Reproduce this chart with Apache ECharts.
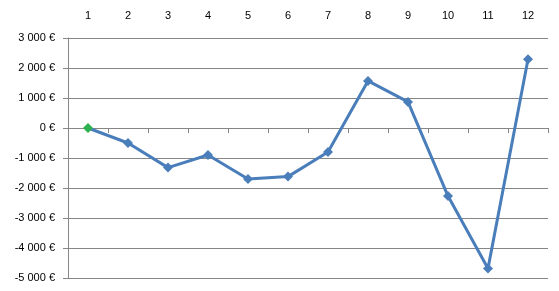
<!DOCTYPE html>
<html><head><meta charset="utf-8">
<script src="https://cdn.jsdelivr.net/npm/echarts@6/dist/echarts.min.js"></script>
<style>html,body{margin:0;padding:0;background:#fff}#c{width:559px;height:291px}</style>
</head><body><div id="c"></div>
<script>
const categories = ['1','2','3','4','5','6','7','8','9','10','11','12'];
const values = [0, -500, -1320, -900, -1700, -1620, -800, 1570, 870, -2270, -4680, 2290];
const yTicks = {min: -5000, max: 3000, interval: 1000};

function fmt(v){
  const neg = v < 0; const a = Math.abs(v);
  const s = String(a).replace(/\B(?=(\d{3})+(?!\d))/g, ' ');
  return (neg ? '-' : '') + s + ' €';
}
const chart = echarts.init(document.getElementById('c'));
const grey = '#868686';
chart.setOption({
  animation: false,
  grid: {left: 68, right: 11, top: 38, bottom: 13},
  xAxis: [
    {type: 'category', data: categories, position: 'top', boundaryGap: true,
     axisLine: {show: false, onZero: false}, axisTick: {show: false},
     axisLabel: {margin: 17, color: '#000', fontFamily: 'Liberation Sans', fontSize: 11}},
    {type: 'category', data: categories, position: 'bottom', boundaryGap: true,
     axisLine: {show: true, onZero: true, lineStyle: {color: grey, width: 1}},
     axisTick: {show: true, length: 5, lineStyle: {color: grey}},
     axisLabel: {show: false}}
  ],
  yAxis: {type: 'value', min: yTicks.min, max: yTicks.max, interval: yTicks.interval,
    axisLine: {show: true, lineStyle: {color: grey}},
    axisTick: {show: true, length: 5, lineStyle: {color: grey}},
    splitLine: {show: true, lineStyle: {color: grey, width: 1}},
    axisLabel: {margin: 13, color: '#000', fontFamily: 'Liberation Sans', fontSize: 11, formatter: fmt}},
  series: [{
    type: 'line', xAxisIndex: 0,
    data: values.map((v, i) => i === 0 ? {value: v, itemStyle: {color: '#2db14f', borderColor: '#2db14f'}} : v),
    symbol: 'diamond', symbolSize: 10,
    lineStyle: {color: '#4a7ebb', width: 3},
    itemStyle: {color: '#4a7ebb', borderWidth: 0}
  }]
});
</script></body></html>
